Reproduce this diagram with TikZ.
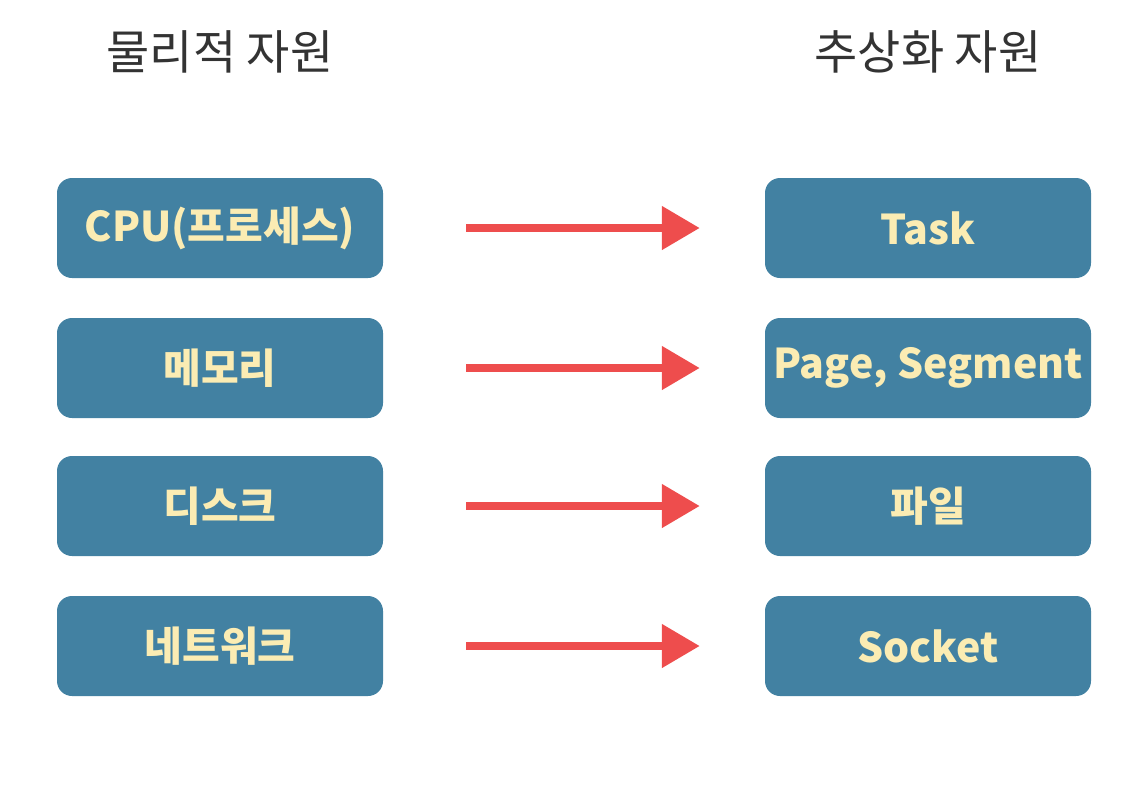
\documentclass[tikz,border=0pt]{standalone}
\usepackage{fontspec}
\setmainfont{Noto Sans CJK KR}
\usetikzlibrary{arrows.meta,positioning}
\definecolor{boxblue}{HTML}{4281A2}
\definecolor{boxtext}{HTML}{FBECB3}
\definecolor{arrowred}{HTML}{EE4D4D}
\definecolor{titlegray}{HTML}{333333}

\begin{document}
\begin{tikzpicture}[x=1pt,y=-1pt,
  resbox/.style={fill=boxblue,rounded corners=15pt,minimum width=326pt,minimum height=100pt,
    text=boxtext,font=\fontsize{41}{44}\selectfont\bfseries,inner sep=0pt},
  maparrow/.style={arrowred,line width=8pt,-{Triangle[length=38pt,width=42pt]},
    shorten <=83pt,shorten >=65pt}]
\useasboundingbox (0,0) rectangle (1141,796);
\node[text=titlegray,font=\fontsize{47}{50}\selectfont] (phys) at (220,52) {물리적 자원};
\node[text=titlegray,font=\fontsize{47}{50}\selectfont] (abst) at (928,52) {추상화 자원};

\foreach \i/\y/\a/\b in {1/228/CPU(프로세스)/Task,2/368/메모리/{Page, Segment},3/506/디스크/파일,4/646/네트워크/Socket} {
  \node[resbox] (l\i) at (220,\y) {\a};
  \node[resbox] (r\i) at (928,\y) {\b};
  \draw[maparrow] (l\i.east) -- (r\i.west);
}
\end{tikzpicture}
\end{document}
